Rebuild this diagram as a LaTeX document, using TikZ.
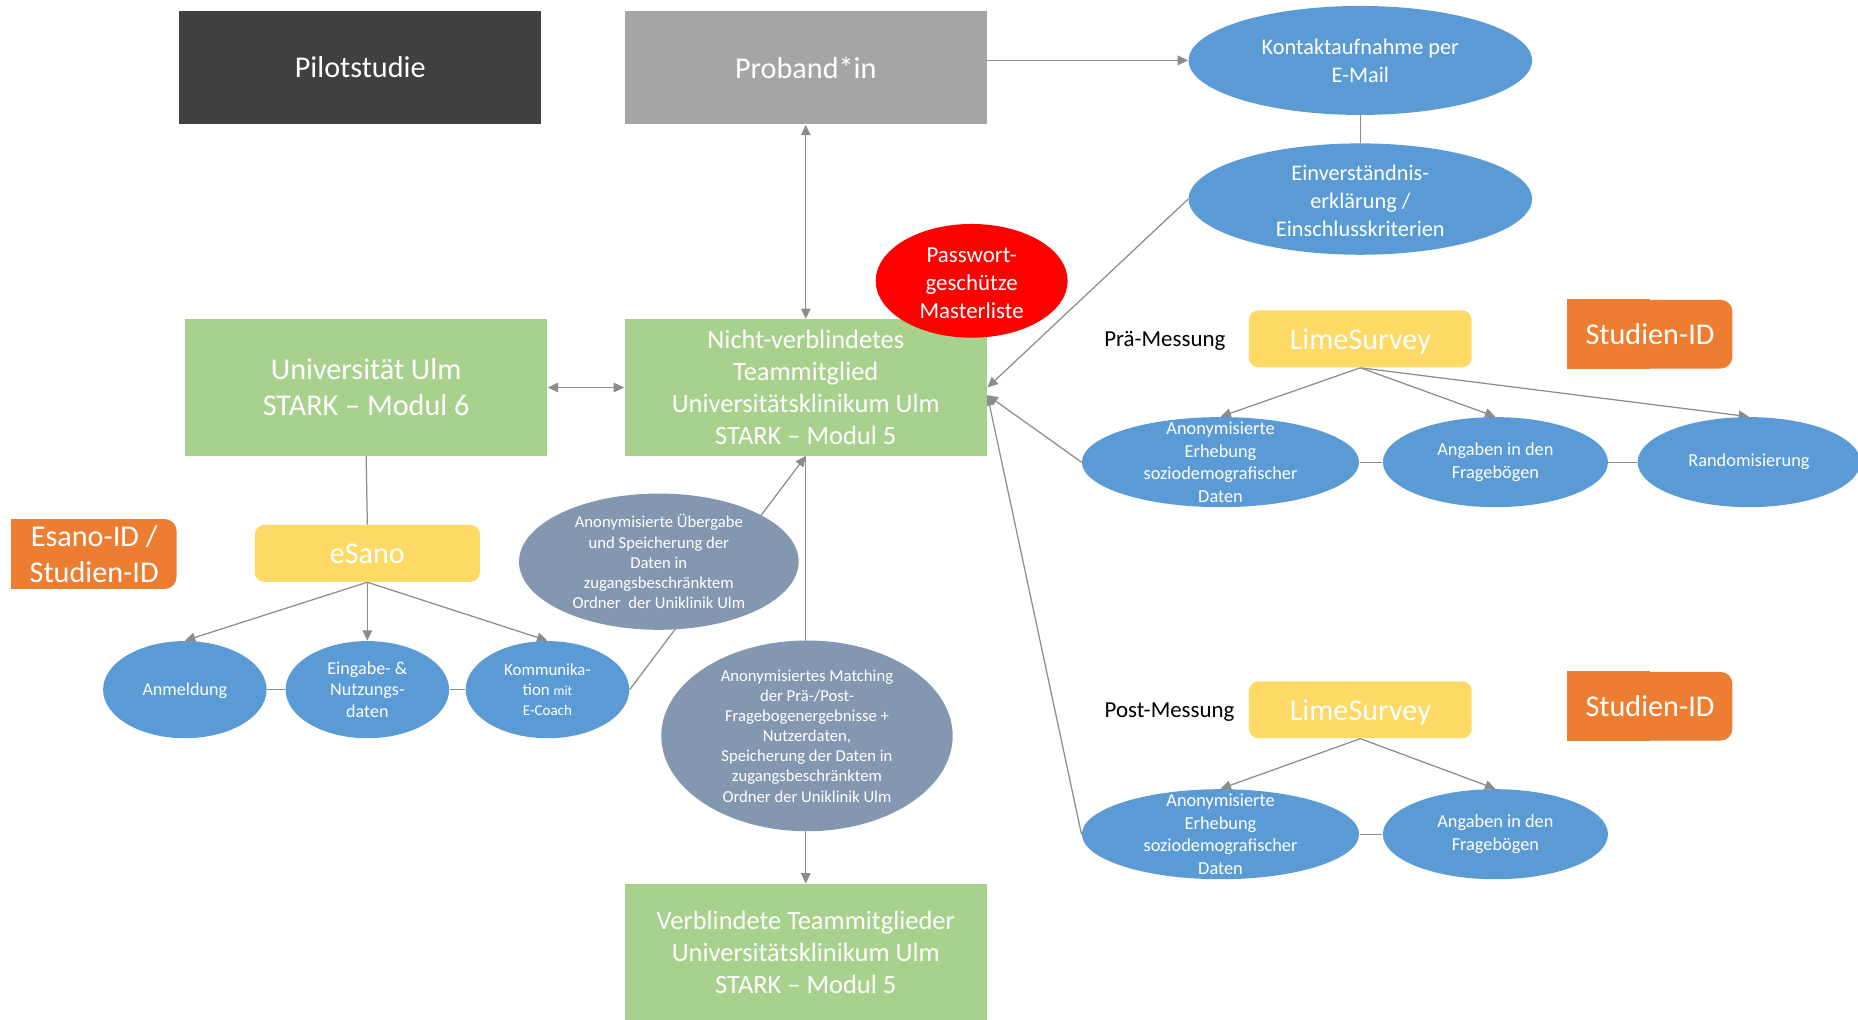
\documentclass[tikz,border=0pt]{standalone}
\usepackage{fontspec}
\setmainfont{Carlito}
\usetikzlibrary{shapes.geometric,arrows.meta}
\definecolor{cdark}{HTML}{404040}
\definecolor{cgray}{HTML}{A5A5A5}
\definecolor{cblue}{HTML}{5B9BD5}
\definecolor{cgblue}{HTML}{8497B0}
\definecolor{cgreen}{HTML}{A9D18E}
\definecolor{cyellow}{HTML}{FFD966}
\definecolor{corange}{HTML}{ED7D31}
\definecolor{cred}{HTML}{FF0000}
\definecolor{cline}{HTML}{8C8C8C}
\pgfdeclarelayer{bg}
\pgfsetlayers{bg,main}
\newcommand{\fBig}{\fontsize{14.5pt}{17pt}\selectfont}
\newcommand{\fMid}{\fontsize{12.7pt}{15.4pt}\selectfont}
\newcommand{\fEl}{\fontsize{10.7pt}{13.5pt}\selectfont}
\newcommand{\fSv}{\fontsize{8.8pt}{10.8pt}\selectfont}
\newcommand{\fEs}{\fontsize{8.7pt}{10.5pt}\selectfont}
\newcommand{\fGr}{\fontsize{8pt}{9.7pt}\selectfont}
\tikzset{
  conn/.style={draw=cline, line width=0.6pt},
  arr/.style={conn, -{Triangle[length=5pt,width=4.6pt]}},
  darr/.style={conn, {Triangle[length=5pt,width=4.6pt]}-{Triangle[length=5pt,width=4.6pt]}},
  rbox/.style={rectangle, inner sep=0pt, text=white, align=center},
  ebox/.style={ellipse, inner sep=0pt, draw=none},
  etext/.style={text=white, align=center, inner sep=0pt},
  idbox/.style={rbox, fill=corange, rounded corners=0.2cm, minimum width=2.78cm, font=\fBig},
  lime/.style={rbox, fill=cyellow, rounded corners=0.16cm, minimum width=3.76cm, minimum height=0.96cm, font=\fBig, text depth=0pt},
  svell/.style={ebox, fill=cblue, minimum height=1.52cm},
  esell/.style={ebox, fill=cblue, minimum width=2.76cm, minimum height=1.64cm},
  mlabel/.style={inner sep=0pt, font=\fontsize{11pt}{13pt}\selectfont, text depth=0pt},
}
\begin{document}
\begin{tikzpicture}[x=0.02cm,y=-0.02cm]
\useasboundingbox (0,0) rectangle (1568,860);

% top boxes
\node[rbox, fill=cdark, minimum width=6.12cm, minimum height=1.92cm, font=\fBig] (Pilot) at (304,57) {Pilotstudie};
\node[rbox, fill=cgray, minimum width=6.12cm, minimum height=1.92cm, font=\fBig] (Proband) at (680,57) {Proband*in};

% contact ellipses
\node[ebox, fill=cblue, minimum width=5.8cm, minimum height=1.84cm] (Kontakt) at (1148,51) {};
\node[etext, font=\fEl] (KontaktT) at (Kontakt.center) {Kontaktaufnahme per\\E-Mail};
\node[ebox, fill=cblue, minimum width=5.8cm, minimum height=1.88cm] (Einv) at (1148,168) {};
\node[etext, font=\fEl] (EinvT) at ([yshift=-0.03cm]Einv.center) {Einverständnis-\\erklärung /\\Einschlusskriterien};

% green boxes
\node[rbox, fill=cgreen, minimum width=6.12cm, minimum height=2.3cm, font=\fMid] (Nicht) at (680,327) {Nicht-verblindetes\\Teammitglied\\Universitätsklinikum Ulm\\STARK -- Modul 5};
\node[rbox, fill=cgreen, minimum width=6.12cm, minimum height=2.3cm, font=\fontsize{14.5pt}{17.2pt}\selectfont] (Uni) at (309,327) {Universität Ulm\\STARK -- Modul 6};
\node[rbox, fill=cgreen, minimum width=6.12cm, minimum height=2.32cm, font=\fMid] (Verb) at (680,804) {Verblindete Teammitglieder\\Universitätsklinikum Ulm\\STARK -- Modul 5};

% master list (on top of the green box)
\node[ebox, fill=cred, minimum width=3.24cm, minimum height=1.92cm] (Master) at (820,237) {};
\node[etext, font=\fontsize{11pt}{13.6pt}\selectfont] (MasterT) at ([yshift=-0.04cm]Master.center) {Passwort-\\geschütze\\Masterliste};

% Prä-Messung
\node[mlabel] (PraeL) at (983,286) {Prä-Messung};
\node[lime] (Lime1) at (1148,286) {LimeSurvey};
\node[idbox, minimum height=1.16cm] (Stud1) at (1392.5,282) {};
\fill[corange] (Stud1.north west) rectangle (Stud1.south);
\node[etext, font=\fBig] (Stud1T) at (Stud1.center) {Studien-ID};
\node[svell, minimum width=4.68cm] (A1) at (1030,390) {};
\node[etext, font=\fSv] (A1T) at (A1.center) {Anonymisierte\\Erhebung\\soziodemografischer\\Daten};
\node[svell, minimum width=3.8cm] (B1) at (1262,390) {};
\node[etext, font=\fSv] (B1T) at (B1.center) {Angaben in den\\Fragebögen};
\node[svell, minimum width=3.76cm] (C1) at (1476,390) {};
\node[etext, font=\fSv] (C1T) at (C1.center) {Randomisierung};

% Post-Messung
\node[mlabel] (PostL) at (987,599) {Post-Messung};
\node[lime] (Lime2) at (1148,599) {LimeSurvey};
\node[idbox, minimum height=1.16cm] (Stud2) at (1392.5,596) {};
\fill[corange] (Stud2.north west) rectangle (Stud2.south);
\node[etext, font=\fBig] (Stud2T) at (Stud2.center) {Studien-ID};
\node[svell, minimum width=4.68cm] (A2) at (1030,704) {};
\node[etext, font=\fSv] (A2T) at (A2.center) {Anonymisierte\\Erhebung\\soziodemografischer\\Daten};
\node[svell, minimum width=3.8cm] (B2) at (1262,704) {};
\node[etext, font=\fSv] (B2T) at (B2.center) {Angaben in den\\Fragebögen};

% eSano
\node[lime, minimum width=3.8cm] (eSano) at (310,467) {eSano};
\node[idbox, minimum height=1.18cm] (EID) at (79.5,467.5) {};
\fill[corange] (EID.north west) rectangle (EID.south);
\node[etext, font=\fontsize{14.5pt}{17.5pt}\selectfont] (EIDT) at (EID.center) {Esano-ID /\\Studien-ID};
\node[esell] (Anm) at (156,582) {};
\node[etext, font=\fEs, text depth=0pt] (AnmT) at (Anm.center) {Anmeldung};
\node[esell] (Eing) at (310,582) {};
\node[etext, font=\fEs] (EingT) at (Eing.center) {Eingabe- \&\\Nutzungs-\\daten};
\node[esell] (Kom) at (462,582) {};
\node[etext, font=\fontsize{8.1pt}{9.6pt}\selectfont] (KomT) at (Kom.center) {Kommunika-\\tion {\fontsize{6.6pt}{8pt}\selectfont mit}\\{\fontsize{7.2pt}{8pt}\selectfont E-Coach}};

% gray ellipses
\node[ebox, fill=cgblue, minimum width=4.72cm, minimum height=2.3cm] (Gray1) at (556,474) {};
\node[etext, font=\fGr] (Gray1T) at (Gray1.center) {Anonymisierte Übergabe\\und Speicherung der\\Daten in\\zugangsbeschränktem\\Ordner~~der Uniklinik Ulm};
\node[ebox, fill=cgblue, minimum width=4.92cm, minimum height=3.22cm] (Gray2) at (681,621) {};
\node[etext, font=\fGr] (Gray2T) at (Gray2.center) {Anonymisiertes Matching\\der Prä-/Post-\\Fragebogenergebnisse +\\Nutzerdaten,\\Speicherung der Daten in\\zugangsbeschränktem\\Ordner der Uniklinik Ulm};

\coordinate (nE2) at ([yshift=-0.13cm]Nicht.east);

\begin{pgfonlayer}{bg}
  \draw[arr] (Proband.east |- Kontakt.west) -- (Kontakt.west);
  \draw[conn] (Kontakt.south) -- (Einv.north);
  \draw[darr] (Proband.south) -- (Nicht.north);
  \draw[darr] (Uni.east) -- (Nicht.west);
  \draw[arr] (Einv.west) -- (Nicht.east);
  \draw[arr] (A1.west) -- (nE2);
  \draw[arr] (A2.west) -- (nE2);
  \draw[arr] (Lime1.south) -- (A1.north);
  \draw[arr] (Lime1.south) -- (B1.north);
  \draw[arr] (Lime1.south) -- (C1.north);
  \draw[conn] (A1.east) -- (B1.west);
  \draw[conn] (B1.east) -- (C1.west);
  \draw[arr] (Lime2.south) -- (A2.north);
  \draw[arr] (Lime2.south) -- (B2.north);
  \draw[conn] (A2.east) -- (B2.west);
  \draw[conn] (Uni.south) -- (eSano.north);
  \draw[arr] (eSano.south) -- (Anm.north);
  \draw[arr] (eSano.south) -- (Eing.north);
  \draw[arr] (eSano.south) -- (Kom.north);
  \draw[conn] (Anm.east) -- (Eing.west);
  \draw[conn] (Eing.east) -- (Kom.west);
  \draw[arr] (Kom.east) -- (Nicht.south);
  \draw[arr] (Nicht.south) -- (Verb.north);
\end{pgfonlayer}
\end{tikzpicture}
\end{document}
